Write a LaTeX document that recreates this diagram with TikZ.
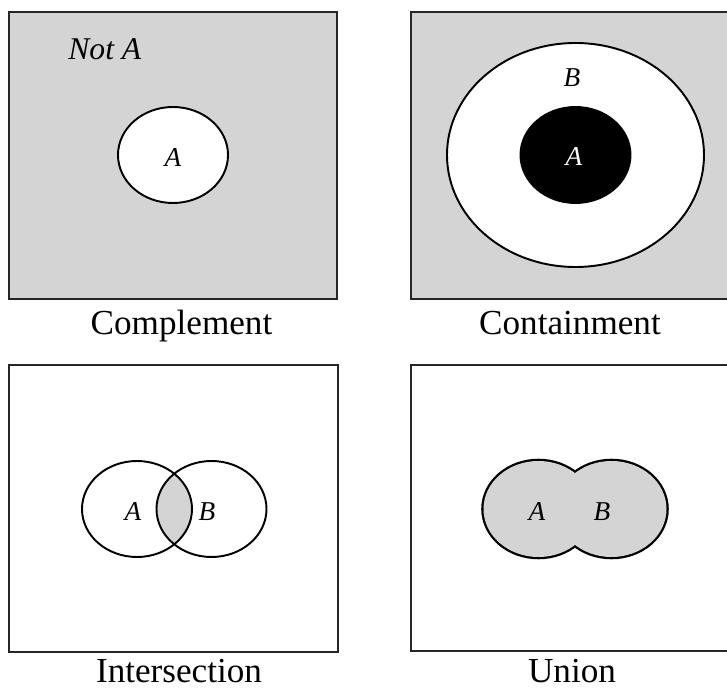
\documentclass[tikz,border=0pt]{standalone}
\usepackage{fontspec}
\setmainfont{Liberation Serif}
\definecolor{setgray}{RGB}{212,212,212}

\begin{document}
\begin{tikzpicture}[frame/.style={draw=black!85,line width=1.1pt},
  ring/.style={draw=black,line width=1.1pt},
  setlbl/.style={anchor=base,inner sep=0pt,font=\fontsize{15.5}{18}\selectfont\itshape},
  settitle/.style={anchor=base,inner sep=0pt,font=\fontsize{20}{24}\selectfont}]
  \useasboundingbox (0,0) rectangle (14.54,13.76);
  % complement
  \path[frame,fill=setgray] (0.18,7.78) rectangle (6.74,13.52);
  \path[ring,fill=white] (3.46,10.66) ellipse [x radius=1.1,y radius=0.96];
  \node[setlbl,anchor=base west,font=\fontsize{18}{21}\selectfont\itshape] (notA) at (1.36,12.56) {Not A};
  \node[setlbl] (cA) at (3.46,10.42) {A};
  \node[settitle] (compl) at (3.63,7.06) {Complement};
  % containment
  \fill[setgray] (8.22,7.78) rectangle (14.54,13.52);
  \draw[frame] (14.54,13.52) -- (8.22,13.52) -- (8.22,7.78) -- (14.54,7.78);
  \path[ring,fill=white] (11.51,10.66) ellipse [x radius=2.57,y radius=2.24];
  \path[ring,fill=black] (11.51,10.66) ellipse [x radius=1.1,y radius=0.96];
  \node[setlbl] (kB) at (11.44,12.02) {B};
  \node[setlbl,text=white] (kA) at (11.48,10.44) {A};
  \node[settitle] (contain) at (11.4,7.06) {Containment};
  % intersection
  \draw[frame] (0.18,0.72) rectangle (6.76,6.46);
  \begin{scope}
    \clip (2.74,3.58) ellipse [x radius=1.1,y radius=0.96];
    \fill[setgray] (4.23,3.58) ellipse [x radius=1.1,y radius=0.96];
  \end{scope}
  \draw[ring] (2.74,3.58) ellipse [x radius=1.1,y radius=0.96]
    (4.23,3.58) ellipse [x radius=1.1,y radius=0.96];
  \node[setlbl] (iA) at (2.66,3.36) {A};
  \node[setlbl] (iB) at (4.14,3.36) {B};
  \node[settitle] (inter) at (3.58,0.12) {Intersection};
  % union
  \draw[frame] (14.54,6.46) -- (8.22,6.46) -- (8.22,0.74) -- (14.54,0.74);
  \draw[ring,line width=2.6pt] (10.77,3.58) ellipse [x radius=1.1,y radius=0.96]
    (12.23,3.58) ellipse [x radius=1.1,y radius=0.96];
  \fill[setgray] (10.77,3.58) ellipse [x radius=1.1,y radius=0.96]
    (12.23,3.58) ellipse [x radius=1.1,y radius=0.96];
  \node[setlbl] (uA) at (10.74,3.36) {A};
  \node[setlbl] (uB) at (12.04,3.36) {B};
  \node[settitle] (union) at (11.44,0.12) {Union};
\end{tikzpicture}
\end{document}
